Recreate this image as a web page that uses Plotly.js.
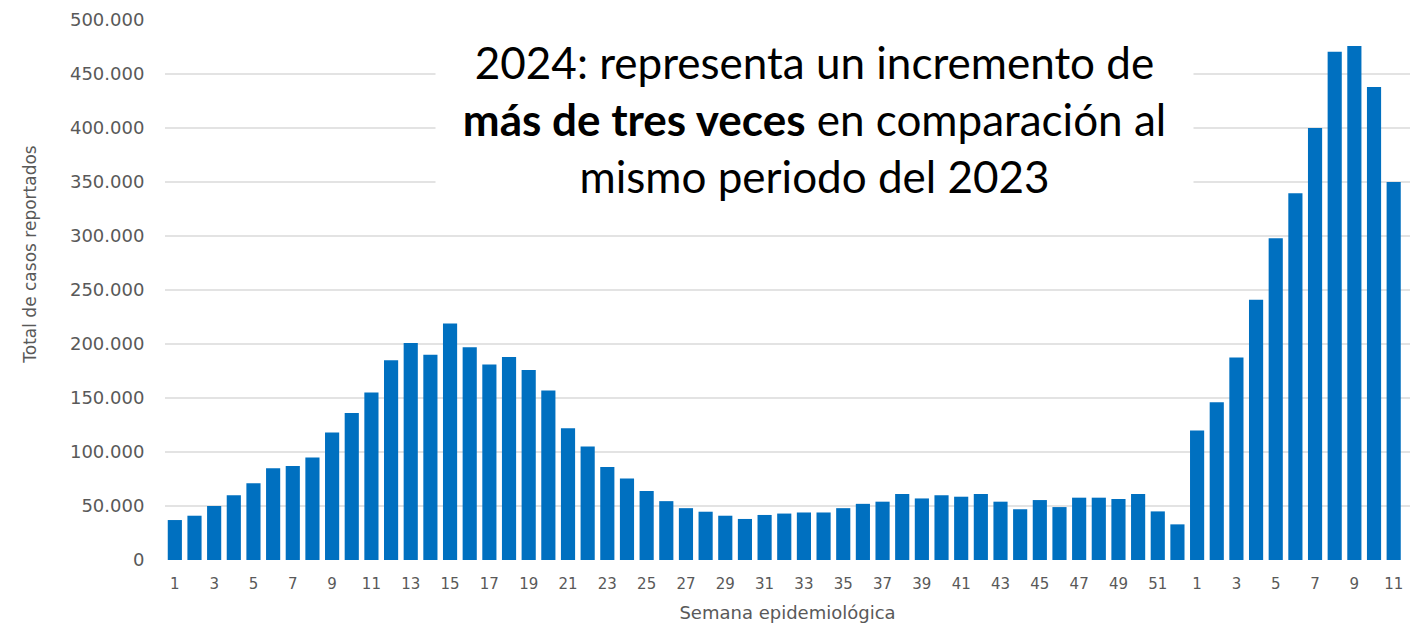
<!DOCTYPE html>
<html>
<head>
<meta charset="utf-8">
<script src="https://cdn.plot.ly/plotly-3.0.1.min.js"></script>
<style>
  html, body { margin: 0; padding: 0; background: #fff; }
  #chart { width: 1412px; height: 630px; }
</style>
</head>
<body>
<div id="chart"></div>
<script>
// Semanas epidemiológicas 2023 y 2024
const weeks2023 = [1, 2, 3, 4, 5, 6, 7, 8, 9, 10, 11, 12, 13, 14, 15, 16, 17, 18, 19, 20,
    21, 22, 23, 24, 25, 26, 27, 28, 29, 30, 31, 32, 33, 34, 35, 36, 37, 38, 39, 40,
    41, 42, 43, 44, 45, 46, 47, 48, 49, 50, 51, 52];
const weeks2024 = [1, 2, 3, 4, 5, 6, 7, 8, 9, 10, 11];

// Total de casos reportados por semana
const cases2023 = [37000, 41000, 50000, 60000, 71000, 85000, 87000, 95000, 118000, 136000,
    155000, 185000, 201000, 190000, 219000, 197000, 181000, 188000, 176000, 157000,
    122000, 105000, 86000, 75500, 64000, 54500, 48000, 44700, 41000, 38000,
    41700, 43000, 44000, 44000, 48000, 52000, 54000, 61000, 57000, 60000,
    58600, 61000, 54000, 47000, 55500, 49000, 57700, 57700, 56500, 61000,
    45000, 33000];
const cases2024 = [120000, 146000, 187500, 241000, 298000, 339500, 400000, 470500, 476000, 438000, 350000];

const weekLabels = [...weeks2023, ...weeks2024];
const allCases = [...cases2023, ...cases2024];
const xIdx = weekLabels.map((w, i) => i);

// only odd weeks get a tick label
const tickIdx = xIdx.filter(i => weekLabels[i] % 2 === 1);
const tickText = tickIdx.map(i => String(weekLabels[i]));

const noteText = '2024: representa un incremento de<br>' +
    '<b>más de tres veces</b> en comparación al<br>' +
    'mismo periodo del 2023';

const trace = {
    type: 'bar',
    x: xIdx,
    y: allCases,
    marker: { color: '#0070C0' },
    hoverinfo: 'y'
};

const layout = {
    width: 1412,
    height: 630,
    margin: { l: 165, r: 2, t: 20, b: 70 },
    paper_bgcolor: '#fff',
    plot_bgcolor: '#fff',
    separators: ',.',
    bargap: 0.28,
    showlegend: false,
    font: { family: 'DejaVu Sans, sans-serif', color: '#595959' },
    xaxis: {
        range: [-0.5, 62.83],
        tickmode: 'array',
        tickvals: tickIdx,
        ticktext: tickText,
        tickfont: { size: 15, color: '#595959' },
        ticks: 'outside',
        ticklen: 10,
        tickcolor: 'rgba(0,0,0,0)',
        showgrid: false,
        zeroline: false,
        showline: false,
        title: {
            text: 'Semana epidemiológica',
            font: { size: 18, color: '#595959' },
            standoff: 14
        }
    },
    yaxis: {
        range: [0, 500000],
        dtick: 50000,
        tickformat: ',d',
        tickfont: { size: 18, color: '#595959' },
        ticks: 'outside',
        ticklen: 16,
        tickcolor: 'rgba(0,0,0,0)',
        showgrid: true,
        gridcolor: '#e3e3e3',
        gridwidth: 2,
        zeroline: false,
        showline: false
    },
    annotations: [
        {
            xref: 'paper', yref: 'paper',
            x: 0.5217, y: 0.8167,
            xanchor: 'center', yanchor: 'middle',
            width: 757, height: 192,
            showarrow: false,
            bgcolor: '#ffffff',
            borderpad: 0,
            align: 'center',
            text: noteText,
            font: { family: 'Lato, sans-serif', size: 44, color: '#000' }
        },
        {
            xref: 'paper', yref: 'paper',
            x: -0.1085, y: 0.567,
            xanchor: 'center', yanchor: 'middle',
            textangle: -90,
            showarrow: false,
            text: 'Total de casos reportados',
            font: { size: 17, color: '#595959' }
        }
    ]
};

Plotly.newPlot('chart', [trace], layout, { displayModeBar: false, staticPlot: true });
</script>
</body>
</html>
